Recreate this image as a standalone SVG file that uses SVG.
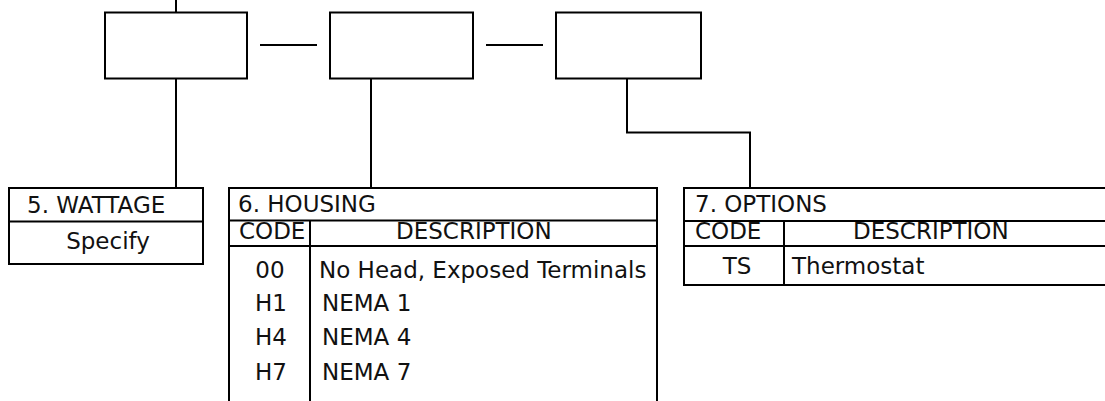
<svg xmlns="http://www.w3.org/2000/svg" width="1105" height="401" viewBox="0 0 1105 401">
<style>
.ln{stroke:#000;stroke-width:2;fill:none}
.bx{stroke:#000;stroke-width:2;fill:#fff}
.t{font-family:"DejaVu Sans",Verdana,sans-serif;font-size:23px;fill:#111}
.m{text-anchor:middle}
</style>
<rect width="1105" height="401" fill="#fff"/>
<g id="connectors">
<line class="ln" x1="176" y1="0" x2="176" y2="12.5"/>
<line class="ln" x1="260" y1="45" x2="317" y2="45"/>
<line class="ln" x1="486" y1="45" x2="543" y2="45"/>
<line class="ln" x1="176" y1="78.5" x2="176" y2="188"/>
<line class="ln" x1="371" y1="78.5" x2="371" y2="188"/>
<polyline class="ln" points="627,78.5 627,132.5 750,132.5 750,188"/>
</g>
<g id="box1"><rect class="bx" x="105" y="12.5" width="142" height="66"/></g>
<g id="box2"><rect class="bx" x="330" y="12.5" width="143" height="66"/></g>
<g id="box3"><rect class="bx" x="556" y="12.5" width="145" height="66"/></g>
<g id="wattage">
<rect class="bx" x="9" y="188" width="194" height="76"/>
<line class="ln" x1="9" y1="221.5" x2="203" y2="221.5"/>
<text class="t" x="27" y="213">5. WATTAGE</text>
<text class="t m" x="108" y="249">Specify</text>
</g>
<g id="housing">
<path class="ln" d="M229,403 V188 H657 V403"/>
<line class="ln" x1="229" y1="220.5" x2="657" y2="220.5"/>
<line class="ln" x1="229" y1="246" x2="657" y2="246"/>
<line class="ln" x1="310" y1="220.5" x2="310" y2="403"/>
<text class="t" x="238" y="212">6. HOUSING</text>
<text class="t" x="239" y="239">CODE</text>
<text class="t" x="396" y="239">DESCRIPTION</text>
<text class="t m" x="270" y="278">00</text>
<text class="t" x="319" y="278">No Head, Exposed Terminals</text>
<text class="t m" x="271" y="311">H1</text>
<text class="t" x="322" y="311">NEMA 1</text>
<text class="t m" x="271" y="345">H4</text>
<text class="t" x="322" y="345">NEMA 4</text>
<text class="t m" x="271" y="380">H7</text>
<text class="t" x="322" y="380">NEMA 7</text>
</g>
<g id="options">
<path class="ln" d="M1107,188 H684 V285 H1107"/>
<line class="ln" x1="684" y1="221" x2="1107" y2="221"/>
<line class="ln" x1="684" y1="246" x2="1107" y2="246"/>
<line class="ln" x1="784" y1="221" x2="784" y2="285"/>
<text class="t" x="695" y="212">7. OPTIONS</text>
<text class="t" x="695" y="239">CODE</text>
<text class="t" x="853" y="239">DESCRIPTION</text>
<text class="t m" x="737" y="274">TS</text>
<text class="t" x="792" y="274">Thermostat</text>
</g>
</svg>
